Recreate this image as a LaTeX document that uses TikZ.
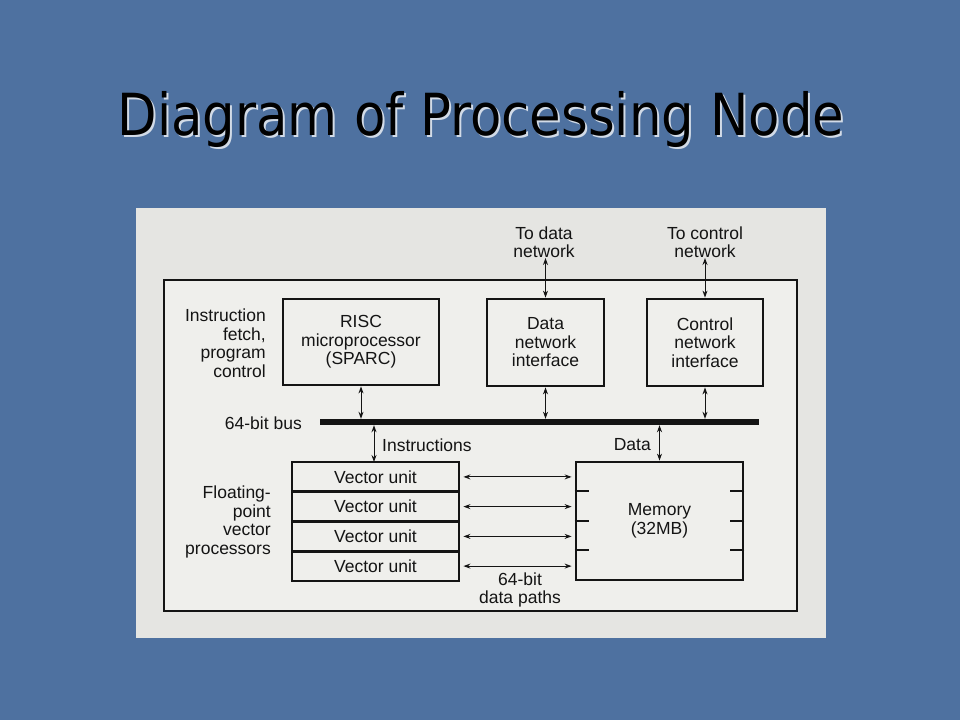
\documentclass[tikz,border=0pt]{standalone}
\usepackage{fontspec}
\setmainfont{Liberation Sans}
\newfontfamily\titlefont{DejaVu Sans}
\usetikzlibrary{arrows.meta}
\definecolor{slide}{RGB}{78,113,160}
\definecolor{panel}{RGB}{229,229,226}
\definecolor{inner}{RGB}{239,239,236}
\definecolor{ink}{RGB}{20,20,20}

\tikzset{
  unit/.style={draw=ink, line width=2.8pt, inner sep=0pt, align=center},
  link/.style={draw=ink, line width=1pt, {Stealth[length=7pt,width=5pt]}-{Stealth[length=7pt,width=5pt]}},
  lbl/.style={text=ink, align=center, inner sep=0pt}
}

\begin{document}
\begin{tikzpicture}[x=1pt, y=-1pt, font=\fontsize{17.5}{18.5}\selectfont, text=ink]
\useasboundingbox (0,0) rectangle (960,720);
\fill [slide] (0,0) rectangle (960,720);

% title with its light shadow
\node [anchor=base, white, opacity=0.75, xscale=0.885, font=\titlefont\fontsize{58}{60}\selectfont] (titleshadow) at (483,137) {Diagram of Processing Node};
\node [anchor=base, black, xscale=0.885, font=\titlefont\fontsize{58}{60}\selectfont] (title) at (481,135) {Diagram of Processing Node};

% picture panel and node frame
\fill [panel] (136,208) rectangle (826,638);
\draw [ink, line width=2.4pt, fill=inner] (164,280) rectangle (797,611);

% upper row
\node [unit, minimum width=156, minimum height=86] (risc) at (361,342) {RISC\\microprocessor\\(SPARC)};
\node [unit, minimum width=117, minimum height=87] (dni) at (545.5,342.5) {Data\\network\\interface};
\node [unit, minimum width=116, minimum height=87] (cni) at (705,342.5) {Control\\network\\interface};

% bus
\node [fill=ink, inner sep=0pt, minimum width=439, minimum height=6] (bus) at (539.5,422) {};

% vector units
\node [unit, minimum width=167, minimum height=29.75] (vu1) at (375.5,476.9) {Vector unit};
\node [unit, minimum width=167, minimum height=29.75] (vu2) at (375.5,506.6) {Vector unit};
\node [unit, minimum width=167, minimum height=29.75] (vu3) at (375.5,536.4) {Vector unit};
\node [unit, minimum width=167, minimum height=29.75] (vu4) at (375.5,566.1) {Vector unit};

% memory
\node [unit, minimum width=167, minimum height=118] (mem) at (659.5,521) {Memory\\(32MB)};
\foreach \y in {491,521,550} {
  \draw [ink, line width=2.2pt] (mem.west |- 0,\y) -- ++(14,0);
  \draw [ink, line width=2.2pt] (mem.east |- 0,\y) -- ++(-14,0);
}

% labels
\node [lbl, anchor=south] (tdn) at (544,258) {To data\\network};
\node [lbl, anchor=south] (tcn) at (705,258) {To control\\network};
\node [lbl, anchor=east, align=right] (fetch) at (266,343) {Instruction\\fetch,\\program\\control};
\node [lbl, anchor=east] (buslbl) at (302,423) {64-bit bus};
\node [lbl, anchor=east, align=right] (fpvp) at (271,522) {Floating-\\point\\vector\\processors};
\node [lbl, anchor=west] (instrlbl) at (382,445) {Instructions};
\node [lbl, anchor=east] (datalbl) at (651,445) {Data};
\node [lbl] (paths) at (520,590) {64-bit\\data paths};

% connectors
\coordinate (instr) at (374,462);
\draw [link] (tdn.south -| dni.north) -- (dni.north);
\draw [link] (tcn.south) -- (cni.north);
\draw [link] (risc.south) -- (risc.south |- bus.north);
\draw [link] (dni.south) -- (dni.south |- bus.north);
\draw [link] (cni.south) -- (cni.south |- bus.north);
\draw [link] (instr |- bus.south) -- (instr);
\draw [link] (mem.north |- bus.south) -- (mem.north);
\foreach \i in {1,...,4}
  \draw [link, shorten <=3pt, shorten >=3pt] (vu\i.east) -- (vu\i.east -| mem.west);

\end{tikzpicture}
\end{document}
